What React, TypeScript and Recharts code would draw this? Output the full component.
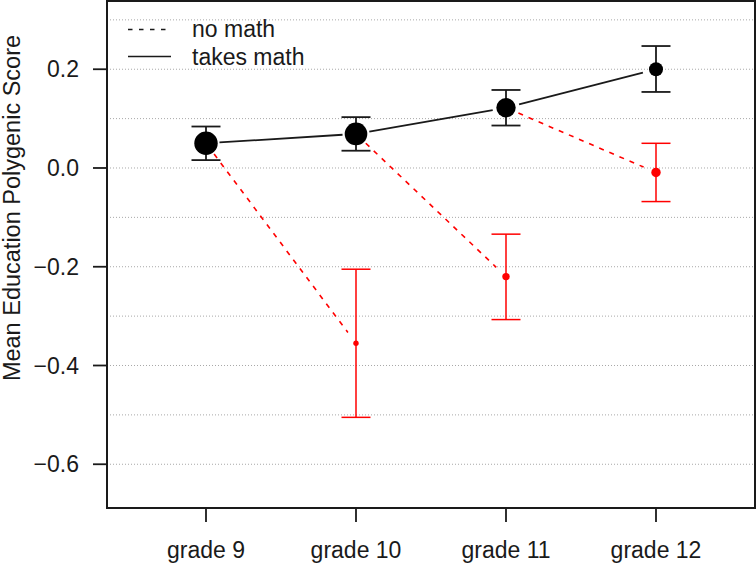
import React from 'react';
import {
  ComposedChart,
  XAxis,
  YAxis,
  CartesianGrid,
  Scatter,
  ErrorBar,
  Line,
  ReferenceArea
} from 'recharts';

// grades on the x axis
const grades = ['grade 9', 'grade 10', 'grade 11', 'grade 12'];
const gradeX = [1, 2, 3, 4];

// takes math (black, solid)
const takesMean = [0.05, 0.069, 0.122, 0.2];
const takesLow = [0.016, 0.035, 0.086, 0.154];
const takesHigh = [0.084, 0.103, 0.158, 0.247];
const takesSize = [11.7, 11.3, 9.7, 7];

// no math (red, dashed) – none in grade 9
const noMathMean = [null, -0.355, -0.22, -0.009];
const noMathLow = [null, -0.505, -0.307, -0.068];
const noMathHigh = [null, -0.205, -0.134, 0.05];
const noMathSize = [null, 2.7, 3.7, 4.7];

const yTicks = [-0.6, -0.4, -0.2, 0, 0.2];
const gridValues = [-0.6, -0.5, -0.4, -0.3, -0.2, -0.1, 0, 0.1, 0.2, 0.3];

const X_DOMAIN = [0.34, 4.66];
const Y_DOMAIN = [-0.6886, 0.3382];

const FONT = '"Liberation Sans", Arial, Helvetica, sans-serif';
const INK = '#1a1a1a';
const RED = '#ff0000';
const GAP = 13.5; // R leaves a gap round each point

const takesData = gradeX.map((x, i) => ({
  x,
  y: takesMean[i],
  err: [takesMean[i] - takesLow[i], takesHigh[i] - takesMean[i]],
  r: takesSize[i]
}));

const noMathData = gradeX
  .map((x, i) =>
    noMathMean[i] === null
      ? null
      : {
          x,
          y: noMathMean[i] as number,
          err: [
            (noMathMean[i] as number) - (noMathLow[i] as number),
            (noMathHigh[i] as number) - (noMathMean[i] as number)
          ],
          r: noMathSize[i] as number
        }
  )
  .filter(Boolean) as Array<{ x: number; y: number; err: number[]; r: number }>;

// dashed links: takes math in grade g -> no math in grade g+1
const dropSegments = gradeX.slice(1).map((x, k) => [
  { x: gradeX[k], y: takesMean[k] },
  { x, y: noMathMean[k + 1] as number }
]);

// draws the segment from this point to the next, trimmed at both ends
const segmentDot = (color: string, width: number, dash?: string) => (props: any) => {
  const { index, points } = props;
  if (!points || index >= points.length - 1) return <g key={`seg-${index}`} />;
  const a = points[index];
  const b = points[index + 1];
  const dx = b.x - a.x;
  const dy = b.y - a.y;
  const len = Math.sqrt(dx * dx + dy * dy);
  if (len <= GAP * 2) return <g key={`seg-${index}`} />;
  const ux = dx / len;
  const uy = dy / len;
  return (
    <line
      key={`seg-${index}`}
      x1={a.x + ux * GAP}
      y1={a.y + uy * GAP}
      x2={b.x - ux * GAP}
      y2={b.y - uy * GAP}
      stroke={color}
      strokeWidth={width}
      strokeDasharray={dash}
    />
  );
};

const Point = (fill: string) => (props: any) => (
  <circle cx={props.cx} cy={props.cy} r={props.payload.r} fill={fill} />
);

const fmt = (v: number) => (v < 0 ? '\u2212' + Math.abs(v).toFixed(1) : v.toFixed(1));

const Overlay = () => (
  <svg
    width={756}
    height={564}
    style={{ position: 'absolute', left: 0, top: 0, pointerEvents: 'none' }}
    fontFamily={FONT}
    fontSize={23}
  >
    <line x1={128} y1={29.5} x2={171} y2={29.5} stroke={INK} strokeWidth={1.6} strokeDasharray="4.5 6.5" />
    <text x={192} y={37} fill={INK}>no math</text>
    <line x1={128} y1={56.5} x2={171} y2={56.5} stroke={INK} strokeWidth={1.6} />
    <text x={192} y={65} fill={INK}>takes math</text>
    <text
      x={19.5}
      y={208}
      fill={INK}
      fontSize={23.5}
      textAnchor="middle"
      transform="rotate(-90 19.5 208)"
    >
      Mean Education Polygenic Score
    </text>
  </svg>
);

export default function App() {
  return (
    <div style={{ position: 'absolute', left: 0, top: 0, width: 756, height: 564, background: '#fff' }}>
      <ComposedChart width={756} height={564} margin={{ top: 1, right: 1, bottom: 0, left: 0 }}>
        <CartesianGrid
          horizontal
          vertical={false}
          horizontalValues={gridValues}
          stroke="#a8a8a8"
          strokeDasharray="1 2"
        />
        <XAxis
          type="number"
          dataKey="x"
          domain={X_DOMAIN}
          allowDataOverflow
          ticks={gradeX}
          tickFormatter={(v: number) => grades[v - 1]}
          height={56}
          axisLine={false}
          tickSize={14}
          tickMargin={20}
          tickLine={{ stroke: INK, strokeWidth: 1.8 }}
          tick={{ fill: INK, fontSize: 23, fontFamily: FONT }}
          interval={0}
        />
        <YAxis
          type="number"
          dataKey="y"
          domain={Y_DOMAIN}
          allowDataOverflow
          ticks={yTicks}
          tickFormatter={fmt}
          width={107}
          axisLine={false}
          tickSize={14}
          tickMargin={14}
          tickLine={{ stroke: INK, strokeWidth: 1.8 }}
          tick={{ fill: INK, fontSize: 23, fontFamily: FONT }}
          interval={0}
        />
        <ReferenceArea
          x1={X_DOMAIN[0]}
          x2={X_DOMAIN[1]}
          y1={Y_DOMAIN[0]}
          y2={Y_DOMAIN[1]}
          fill="none"
          stroke={INK}
          strokeWidth={2}
          ifOverflow="visible"
        />
        {dropSegments.map((seg, k) => (
          <Line
            key={`drop-${k}`}
            data={seg}
            dataKey="y"
            stroke="none"
            isAnimationActive={false}
            activeDot={false}
            dot={segmentDot(RED, 1.6, '5 6')}
          />
        ))}
        <Line
          data={takesData}
          dataKey="y"
          stroke="none"
          isAnimationActive={false}
          activeDot={false}
          dot={segmentDot(INK, 1.8)}
        />
        <Scatter data={noMathData} dataKey="y" isAnimationActive={false} shape={Point(RED)}>
          <ErrorBar dataKey="err" direction="y" width={14.5} stroke={RED} strokeWidth={1.5} isAnimationActive={false} />
        </Scatter>
        <Scatter data={takesData} dataKey="y" isAnimationActive={false} shape={Point('#000')}>
          <ErrorBar dataKey="err" direction="y" width={14.5} stroke={INK} strokeWidth={1.8} isAnimationActive={false} />
        </Scatter>
      </ComposedChart>
      <Overlay />
    </div>
  );
}
